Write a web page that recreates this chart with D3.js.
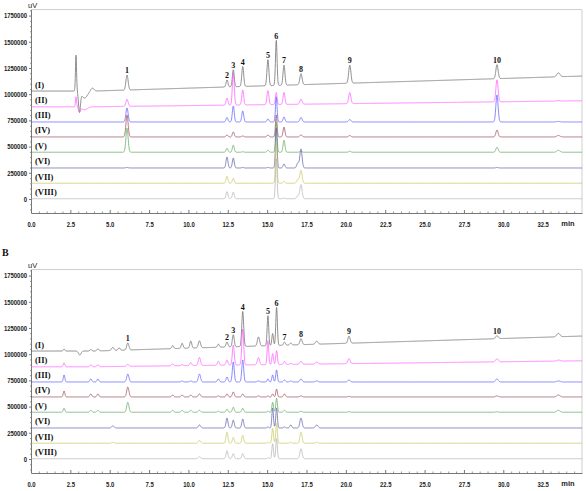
<!DOCTYPE html>
<html><head><meta charset="utf-8">
<script src="https://cdn.jsdelivr.net/npm/d3@7"></script>
<style>body{margin:0;background:#fff}svg{display:block}</style>
</head><body>
<svg id="c" width="586" height="491"></svg>
<script>
// ---------- data ----------
const traceNames = ["(I)","(II)","(III)","(IV)","(V)","(VI)","(VII)","(VIII)"];
const traceColors = ["#6a6a6a","#ff5cff","#6060ff","#a04c5c","#60aa60","#6060a8","#c8c860","#b4b4b4"];
const baseStart = [1030000, 880000, 735000, 592000, 446000, 296000, 150000, 3000];
const baseEnd   = [1173000, 937000, 735000, 592000, 446000, 296000, 150000, 3000];
const yTicks = [0,250000,500000,750000,1000000,1250000,1500000,1750000];
const xTicks = [0,2.5,5,7.5,10,12.5,15,17.5,20,22.5,25,27.5,30,32.5];

// Panel A: retention times (min), peak widths (min), heights (uV) per trace
const peakTimesA  = [2.86, 3.08, 3.40, 3.90, 6.10, 12.45, 12.85, 13.45, 15.05, 15.58, 16.07, 16.95, 17.15, 20.25, 29.6, 33.5];
const peakWidthsA = [0.035,0.06, 0.18, 0.10, 0.07, 0.06,  0.06,  0.06,  0.06,  0.05,  0.06,  0.07,  0.07,  0.07,  0.07, 0.10];
const peaksA_I    = [343000,-191000,-67000,29000,143000,67000,162000,191000,248000,430000,191000,0,105000,172000,134000,38000];
const peaksA_II   = [95000,-48000,-29000,0,67000,67000,305000,143000,134000,115000,115000,0,48000,105000,210000,5000];
const peaksA_III  = [0,0,0,0,134000,43000,153000,105000,29000,239000,48000,0,43000,24000,258000,5000];
const peaksA_IV   = [0,0,0,0,210000,19000,48000,10000,19000,210000,95000,0,19000,14000,67000,14000];
const peaksA_V    = [0,0,0,0,229000,38000,67000,5000,19000,286000,115000,0,10000,10000,48000,19000];
const peaksA_VI   = [0,0,0,0,5000,105000,95000,5000,5000,382000,38000,48000,181000,0,5000,0];
const peaksA_VII  = [0,0,0,0,0,67000,48000,0,0,401000,19000,38000,124000,0,0,0];
const peaksA_VIII = [0,0,0,0,0,67000,62000,0,0,382000,5000,29000,134000,0,0,0];

// Panel B
const peakTimesB  = [2.1, 3.1, 3.8, 4.25, 5.2, 5.6, 6.15, 9.0, 9.6, 10.15, 10.7, 11.9, 12.45, 12.85, 13.45, 14.45, 15.05, 15.35, 15.6, 16.1, 16.5, 17.15, 18.15, 20.2, 29.6, 33.5];
const peakWidthsB = [0.05,0.08,0.06,0.06, 0.08,0.06,0.07, 0.06,0.06,0.06,  0.07, 0.06, 0.06,  0.06,  0.06,  0.07,  0.05,  0.05,  0.05, 0.06, 0.06, 0.07,  0.08,  0.07, 0.08, 0.10];
const peaksB_I    = [19000,-38000,14000,19000,29000,24000,67000,29000,48000,67000,67000,29000,48000,115000,334000,86000,286000,115000,363000,29000,19000,57000,29000,67000,29000,33000];
const peaksB_II   = [38000,0,19000,19000,0,0,19000,19000,10000,29000,76000,38000,48000,191000,343000,67000,229000,105000,134000,29000,10000,29000,19000,48000,29000,10000];
const peaksB_III  = [67000,0,29000,29000,0,0,76000,0,10000,10000,76000,29000,48000,191000,210000,10000,29000,67000,115000,19000,10000,29000,10000,19000,29000,10000];
const peaksB_IV   = [57000,0,29000,29000,0,0,95000,19000,19000,19000,29000,10000,29000,48000,29000,10000,10000,29000,76000,29000,0,10000,0,5000,10000,19000];
const peaksB_V    = [38000,0,19000,19000,0,0,95000,19000,19000,19000,19000,10000,29000,48000,38000,0,10000,95000,134000,19000,0,10000,0,5000,5000,19000];
const peaksB_VI   = [0,0,0,0,19000,0,0,0,0,0,29000,0,95000,76000,86000,0,10000,191000,191000,10000,29000,95000,29000,0,0,0];
const peaksB_VII  = [0,0,0,0,10000,0,0,0,0,0,29000,0,105000,57000,76000,0,10000,143000,191000,0,10000,105000,10000,0,0,0];
const peaksB_VIII = [0,0,0,0,0,0,0,0,0,0,19000,0,76000,48000,48000,0,10000,143000,191000,0,0,95000,0,0,0,0];

const peakLabels = ["1","2","3","4","5","6","7","8","9","10"];
const peakLabelTimesA = [6.10,12.45,12.85,13.45,15.05,15.58,16.07,17.15,20.25,29.6];
const peakLabelTimesB = [6.15,12.45,12.85,13.45,15.05,15.6,16.1,17.15,20.2,29.6];

// ---------- drawing ----------
const svg = d3.select("#c");
const x = d3.scaleLinear().domain([0,35]).range([31,582]);
const tGrid = d3.range(0, 35.0001, 0.01);

function baseline(i, t){
  return t < 4 ? baseStart[i] : baseStart[i] + (baseEnd[i]-baseStart[i])*(t-4)/31;
}
function signal(i, t, times, widths, heights){
  let v = baseline(i, t);
  for (let k=0;k<times.length;k++){
    const h = heights[k]; if (!h) continue;
    const z = (t-times[k])/widths[k];
    if (Math.abs(z) < 6) v += h*Math.exp(-0.5*z*z);
  }
  return v;
}
function digitLen(s, w){ let L=0; for (const c of s) L += (c==="."?w*0.5:w); return L; }

function panel(top, times, widths, peakSets, labelTimes, letter){
  const bottom = top + 203.5;
  const y = d3.scaleLinear().domain([-133600, 1808000]).range([bottom, top]);
  const g = svg.append("g");

  // frame (top & right)
  g.append("line").attr("x1",31).attr("x2",582).attr("y1",top).attr("y2",top).attr("stroke","#cfcfcf").attr("stroke-width",1);
  g.append("line").attr("x1",582).attr("x2",582).attr("y1",top).attr("y2",bottom).attr("stroke","#cfcfcf").attr("stroke-width",1);

  // y axis
  const ya = g.append("g").attr("transform","translate(31,0)")
    .call(d3.axisLeft(y).tickValues(yTicks).tickSize(2).tickSizeOuter(0).tickFormat(d3.format("d")));
  ya.select(".domain").attr("stroke","#777");
  ya.selectAll(".tick line").attr("stroke","#777");
  ya.selectAll(".tick text").attr("x",-4).attr("font-family","Liberation Sans, Arial, sans-serif")
    .attr("font-size",7.5).attr("font-weight","bold").attr("fill","#222")
    .attr("textLength", d=>digitLen(String(d),3.3)).attr("lengthAdjust","spacingAndGlyphs");
  const ym = g.append("g").attr("transform","translate(31,0)")
    .call(d3.axisLeft(y).tickValues(d3.range(-100000,1800001,50000).filter(v=>v%250000!==0)).tickSize(1).tickFormat(""));
  ym.select(".domain").remove(); ym.selectAll("line").attr("stroke","#999");

  // x axis
  const xa = g.append("g").attr("transform",`translate(0,${bottom})`)
    .call(d3.axisBottom(x).tickValues(xTicks).tickSize(-3).tickSizeOuter(0).tickFormat(d3.format(".1f")));
  xa.select(".domain").attr("stroke","#777");
  xa.selectAll(".tick line").attr("stroke","#777");
  xa.selectAll(".tick text").attr("y",9).attr("font-family","Liberation Sans, Arial, sans-serif")
    .attr("font-size",7.5).attr("font-weight","bold").attr("fill","#222")
    .attr("textLength", d=>digitLen(d3.format(".1f")(d),3.3)).attr("lengthAdjust","spacingAndGlyphs");
  const xm = g.append("g").attr("transform",`translate(0,${bottom})`)
    .call(d3.axisBottom(x).tickValues(d3.range(0,35.01,0.5).filter(v=>Math.abs(v/2.5-Math.round(v/2.5))>1e-6)).tickSize(-1.5).tickFormat(""));
  xm.select(".domain").remove(); xm.selectAll("line").attr("stroke","#999");

  g.append("text").attr("x",568).attr("y",bottom+12.5).attr("text-anchor","middle")
    .attr("font-family","Liberation Sans, Arial, sans-serif").attr("font-size",7.5).attr("font-weight","bold")
    .attr("fill","#222").text("min");
  g.append("text").attr("x",28).attr("y",top-2).attr("font-family","Liberation Sans, Arial, sans-serif")
    .attr("font-size",7.5).attr("fill","#222").text("uV");
  if (letter) g.append("text").attr("x",2).attr("y",top-14).attr("font-family","Liberation Serif, Times New Roman, serif")
    .attr("font-size",10).attr("font-weight","bold").attr("fill","#111").text(letter);

  // traces
  const line = d3.line().x(d=>x(d[0])).y(d=>y(d[1]));
  peakSets.forEach((hs,i)=>{
    const pts = tGrid.map(t=>[t, signal(i,t,times,widths,hs)]);
    g.append("path").attr("d",line(pts)).attr("fill","none")
      .attr("stroke",traceColors[i]).attr("stroke-width",0.75);
  });

  // trace labels
  traceNames.forEach((n,i)=>{
    g.append("text").attr("x",35).attr("y",y(baseStart[i])-3.5)
      .attr("font-family","Liberation Serif, Times New Roman, serif").attr("font-size",8.5)
      .attr("font-weight","bold").attr("fill","#111").text(n);
  });

  // peak labels (above trace I apex)
  labelTimes.forEach((t,k)=>{
    const v = signal(0,t,times,widths,peakSets[0]);
    g.append("text").attr("x",x(t)).attr("y",y(v)-1.8).attr("text-anchor","middle")
      .attr("font-family","Liberation Serif, Times New Roman, serif").attr("font-size",8)
      .attr("font-weight","bold").attr("fill","#111").text(peakLabels[k]);
  });
}

panel(9.5, peakTimesA, peakWidthsA,
  [peaksA_I,peaksA_II,peaksA_III,peaksA_IV,peaksA_V,peaksA_VI,peaksA_VII,peaksA_VIII], peakLabelTimesA, null);
panel(269.5, peakTimesB, peakWidthsB,
  [peaksB_I,peaksB_II,peaksB_III,peaksB_IV,peaksB_V,peaksB_VI,peaksB_VII,peaksB_VIII], peakLabelTimesB, "B");
</script>
</body></html>
